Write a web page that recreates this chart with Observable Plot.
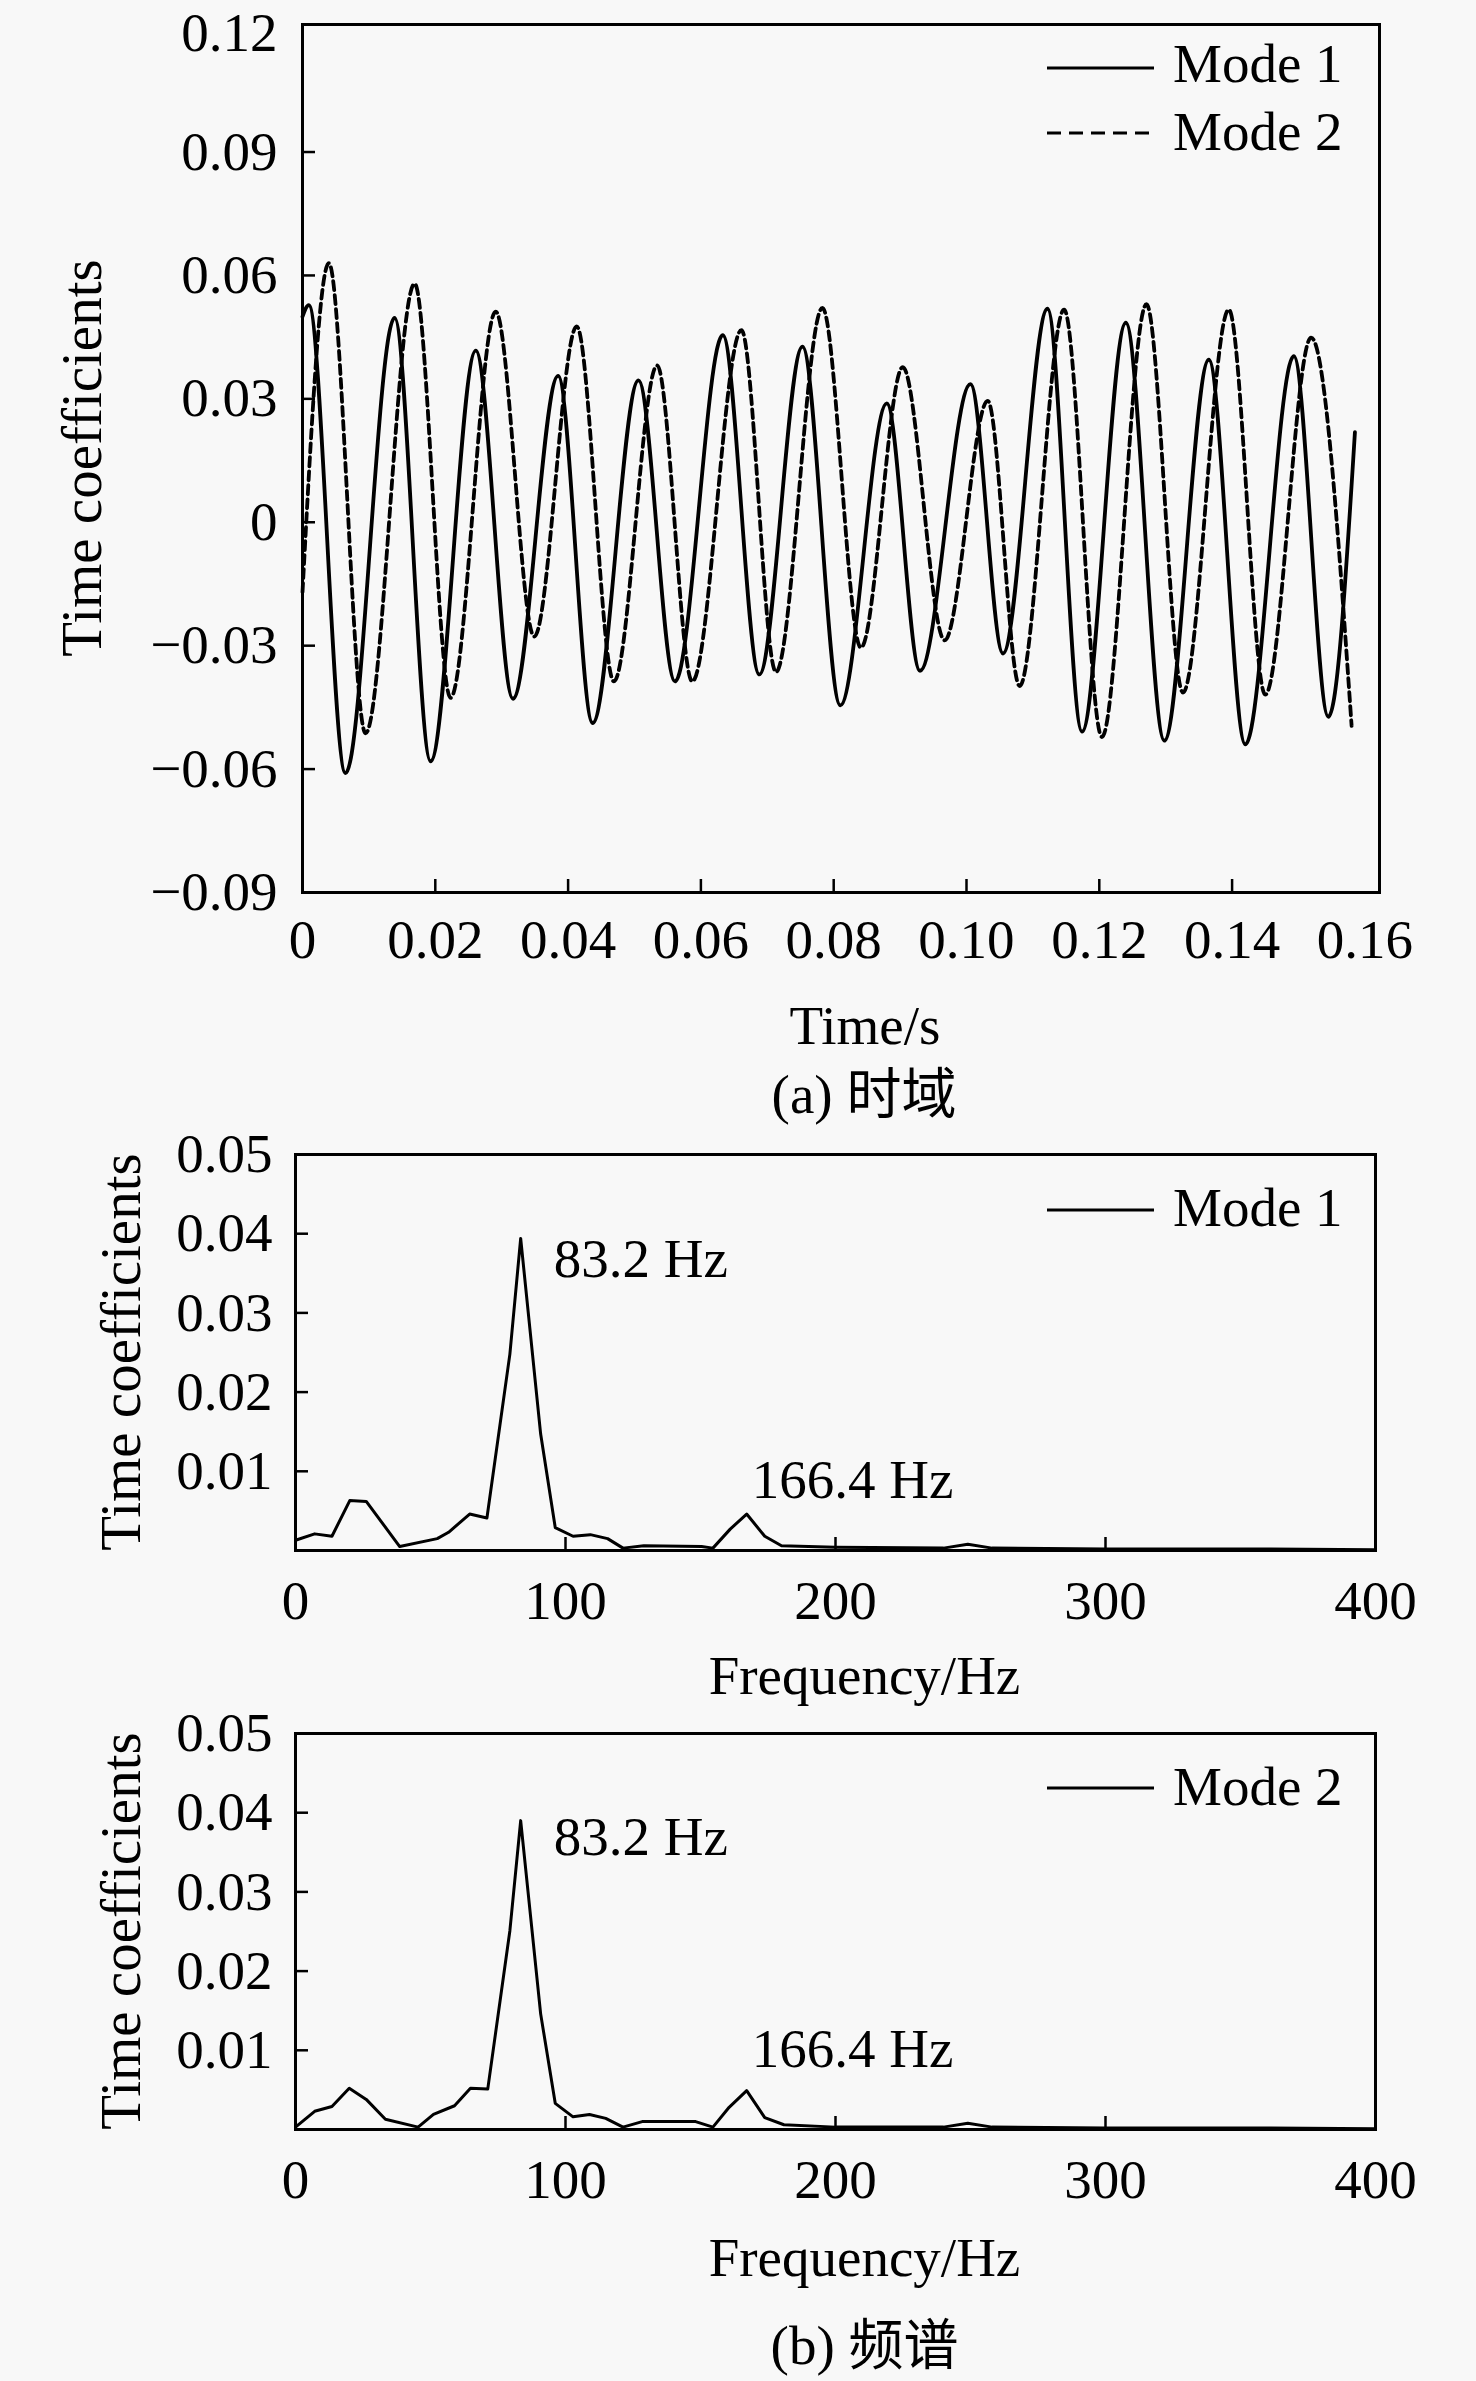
<!DOCTYPE html>
<html><head><meta charset="utf-8">
<script src="https://cdn.jsdelivr.net/npm/d3@7"></script>
<script src="https://cdn.jsdelivr.net/npm/@observablehq/plot@0.6"></script>
<style>
body{margin:0;background:#f8f8f8;}
#wrap{position:relative;width:1476px;height:2381px;overflow:hidden;}
#wrap > svg{position:absolute;left:0;}
</style></head><body><div id="wrap"></div>
<script>
// ---------- data: (a) time domain ----------
const mode1Time = [0, 0.00095, 0.00648, 0.01387, 0.0193, 0.0261, 0.0317, 0.0385, 0.0437, 0.0506, 0.0561, 0.0633, 0.0688, 0.0753, 0.0810, 0.0880, 0.0930, 0.1006, 0.1055, 0.1122, 0.1174, 0.1240, 0.1298, 0.1365, 0.1420, 0.1493, 0.1545, 0.1585];
const mode1Value = [0.050, 0.0528, -0.0610, 0.0497, -0.0581, 0.0417, -0.0429, 0.0356, -0.0488, 0.0345, -0.0387, 0.0455, -0.0370, 0.0427, -0.0445, 0.0289, -0.0361, 0.0336, -0.0319, 0.0519, -0.0509, 0.0485, -0.0531, 0.0395, -0.0540, 0.0404, -0.0473, 0.0219];
const mode2Time = [0, 0.00397, 0.0095, 0.01688, 0.0223, 0.0291, 0.0349, 0.0413, 0.0469, 0.0534, 0.0587, 0.0661, 0.0713, 0.0783, 0.0841, 0.0904, 0.0967, 0.1032, 0.1080, 0.1147, 0.1204, 0.1271, 0.1326, 0.1395, 0.1450, 0.1519, 0.1580];
const mode2Value = [-0.017, 0.063, -0.0513, 0.058, -0.0427, 0.0512, -0.0278, 0.0476, -0.0387, 0.0381, -0.0387, 0.0467, -0.0364, 0.0521, -0.0305, 0.0377, -0.0287, 0.0295, -0.0398, 0.0517, -0.0522, 0.0530, -0.0414, 0.0517, -0.0419, 0.0449, -0.0495];
const timeTickLabels = [0, 0.02, 0.04, 0.06, 0.08, 0.10, 0.12, 0.14, 0.16];
const timeValueTicks = [-0.09, -0.06, -0.03, 0, 0.03, 0.06, 0.09, 0.12];

// ---------- data: (b) spectra ----------
const mode1Freq = [0, 7.1, 13.5, 20.1, 26.2, 38.6, 52.5, 56.7, 64.5, 70.9, 79.4, 83.4, 90.8, 96.2, 102.8, 109.2, 115.6, 121.3, 129, 150.4, 154.6, 161, 167.1, 173.8, 180, 200, 240, 249, 258, 300, 350, 400];
const mode1Amp = [0.0013, 0.0021, 0.0018, 0.0063, 0.0062, 0.0005, 0.0015, 0.0023, 0.0046, 0.0041, 0.0248, 0.0394, 0.0147, 0.0029, 0.0018, 0.0020, 0.0015, 0.0003, 0.0006, 0.0005, 0.0003, 0.0027, 0.0046, 0.0018, 0.0006, 0.0004, 0.0003, 0.0008, 0.0003, 0.0002, 0.0002, 0.0001];
const mode2Freq = [0, 7.1, 13.5, 19.9, 26.2, 33.3, 45.4, 51.1, 58.9, 64.8, 71.2, 79.4, 83.4, 90.8, 96.2, 102.8, 108.9, 114.9, 121.3, 128.4, 148.2, 154.6, 160.6, 167.1, 173.8, 180.9, 200, 240, 249, 258, 300, 350, 400];
const mode2Amp = [0.0003, 0.0023, 0.0029, 0.0052, 0.0038, 0.0013, 0.0003, 0.0019, 0.0030, 0.0052, 0.0051, 0.0251, 0.0390, 0.0146, 0.0033, 0.0016, 0.0019, 0.0014, 0.0003, 0.0010, 0.0010, 0.0003, 0.0028, 0.0049, 0.0015, 0.0006, 0.0003, 0.0003, 0.0008, 0.0003, 0.0002, 0.0002, 0.0001];
const freqTickLabels = [0, 100, 200, 300, 400];
const ampTickLabels = [0.01, 0.02, 0.03, 0.04, 0.05];
const peakLabels = ["83.2 Hz", "166.4 Hz"];
const peakFreqs = [83.2, 166.4];

const seriesNames = ["Mode 1", "Mode 2"];
const yTitle = "Time coefficients";
const timeTitle = "Time/s";
const freqTitle = "Frequency/Hz";
const captionA = "(a) 时域";
const captionB = "(b) 频谱";

// ---------- drawing ----------
const FONT = '"Liberation Serif", "Times New Roman", "Noto Sans CJK SC", serif';
const FS = 55;
const wrap = document.getElementById("wrap");
const fmtSigned = d => d === 0 ? "0" : (d < 0 ? "\u2212" : "") + Math.abs(d).toFixed(2);
const fmtTime = d => d === 0 ? "0" : d.toFixed(2);

function place(svg, top) { svg.style.top = top + "px"; wrap.appendChild(svg); return svg; }

// (a) time domain
{
  const W = 1476, H = 1130, mL = 302, mR = 1476 - 1379, mT = 24, mB = H - 892;
  const pw = W - mL - mR, ph = H - mT - mB;
  const d1 = mode1Time.map((t, i) => ({t, v: mode1Value[i]}));
  const d2 = mode2Time.map((t, i) => ({t, v: mode2Value[i]}));
  const svg = Plot.plot({
    width: W, height: H, marginLeft: mL, marginRight: mR, marginTop: mT, marginBottom: mB,
    style: {fontFamily: FONT, fontSize: FS + "px", background: "transparent", color: "#000", overflow: "visible"},
    x: {domain: [0, 0.1622], label: null},
    y: {domain: [-0.09, 0.121], label: null},
    marks: [
      Plot.line(d1, {x: "t", y: "v", curve: "monotone-x", stroke: "#000", strokeWidth: 3.8}),
      Plot.line(d2, {x: "t", y: "v", curve: "monotone-x", stroke: "#000", strokeWidth: 3.8, strokeDasharray: "9,5"}),
      Plot.tickY(timeValueTicks.slice(1, -1), {stroke: "#000", strokeWidth: 2.5, insetRight: pw - 13}),
      Plot.tickX(timeTickLabels.slice(1, -1), {stroke: "#000", strokeWidth: 2.5, insetTop: ph - 13}),
      Plot.axisY(timeValueTicks.slice(0, -1), {tickSize: 0, tickPadding: 25, tickFormat: fmtSigned, fontSize: FS, label: null}),
      Plot.axisY(timeValueTicks.slice(-1), {tickSize: 0, tickPadding: 25, tickFormat: fmtSigned, fontSize: FS, label: null, dy: 5}),
      Plot.axisX(timeTickLabels, {tickSize: 0, tickPadding: 26, tickFormat: fmtTime, fontSize: FS, label: null}),
      Plot.frame({stroke: "#000", strokeWidth: 3}),
      Plot.text([timeTitle], {frameAnchor: "bottom", dx: 24, dy: 151, fontSize: FS}),
      Plot.text([captionA], {frameAnchor: "bottom", dx: 23, dy: 220, fontSize: FS})
    ]
  });
  place(svg, 0);
}

function spectrum(freq, amp, top, H, mT, frameBottom, annDy, titleDy, caption, captionDy) {
  const W = 1476, mL = 295, mR = 1476 - 1375, mB = H - frameBottom;
  const pw = W - mL - mR, ph = H - mT - mB;
  const data = freq.map((f, i) => ({f, a: amp[i]}));
  const peaks = peakFreqs.map((pf, k) => {
    const near = data.filter(d => Math.abs(d.f - pf) < 5);
    const best = near.reduce((m, d) => d.a > m.a ? d : m);
    return {f: best.f, a: best.a, label: peakLabels[k]};
  });
  const marks = [
    Plot.line(data, {x: "f", y: "a", stroke: "#000", strokeWidth: 3}),
    Plot.tickY(ampTickLabels.slice(0, -1), {stroke: "#000", strokeWidth: 2.5, insetRight: pw - 13}),
    Plot.tickX(freqTickLabels.slice(1, -1), {stroke: "#000", strokeWidth: 2.5, insetTop: ph - 13}),
    Plot.axisY(ampTickLabels, {tickSize: 0, tickPadding: 23, tickFormat: d => d.toFixed(2), fontSize: FS, label: null}),
    Plot.axisX(freqTickLabels, {tickSize: 0, tickPadding: 29, tickFormat: d => String(d), fontSize: FS, label: null}),
    Plot.frame({stroke: "#000", strokeWidth: 3}),
    Plot.text([peaks[0]], {x: "f", y: "a", text: "label", textAnchor: "start", dx: 33, dy: annDy[0], fontSize: FS}),
    Plot.text([peaks[1]], {x: "f", y: "a", text: "label", textAnchor: "start", dx: 5, dy: annDy[1], fontSize: FS}),
    Plot.text([freqTitle], {frameAnchor: "bottom", dx: 29, dy: titleDy, fontSize: FS})
  ];
  if (caption) marks.push(Plot.text([caption], {frameAnchor: "bottom", dx: 29, dy: captionDy, fontSize: FS}));
  const svg = Plot.plot({
    width: W, height: H, marginLeft: mL, marginRight: mR, marginTop: mT, marginBottom: mB,
    style: {fontFamily: FONT, fontSize: FS + "px", background: "transparent", color: "#000"},
    x: {domain: [0, 400], label: null},
    y: {domain: [0, 0.05], label: null},
    marks
  });
  place(svg, top);
}

// panel (b) Mode 1: frame 1154..1550 ; panel (b) Mode 2: frame 1733..2129
spectrum(mode1Freq, mode1Amp, 1100, 610, 54, 450, [21, -34], 143, null, 0);
spectrum(mode2Freq, mode2Amp, 1680, 701, 53, 449, [17, -41], 146, captionB, 234);

// ---------- legends and y titles (overlay) ----------
const ov = d3.create("svg").attr("width", 1476).attr("height", 2381)
  .style("position", "absolute").style("left", "0px").style("top", "0px")
  .style("font-family", FONT).style("font-size", FS + "px");
const legends = [
  {name: seriesNames[0], dash: null, y: 68, base: 82},
  {name: seriesNames[1], dash: "14,8", y: 133, base: 150},
  {name: seriesNames[0], dash: null, y: 1210, base: 1226},
  {name: seriesNames[1], dash: null, y: 1788, base: 1805}
];
for (const L of legends) {
  ov.append("line").attr("x1", 1047).attr("x2", 1154).attr("y1", L.y).attr("y2", L.y)
    .attr("stroke", "#000").attr("stroke-width", 3).attr("stroke-dasharray", L.dash);
  ov.append("text").attr("x", 1173).attr("y", L.base).attr("fill", "#000").text(L.name);
}
const yTitles = [{bx: 101, cy: 458}, {bx: 140, cy: 1352}, {bx: 140, cy: 1931}];
for (const T of yTitles) {
  ov.append("text").attr("transform", `translate(${T.bx},${T.cy}) rotate(-90)`)
    .attr("text-anchor", "middle").attr("fill", "#000").style("font-size", "57px").text(yTitle);
}
wrap.appendChild(ov.node());
</script>
</body></html>
